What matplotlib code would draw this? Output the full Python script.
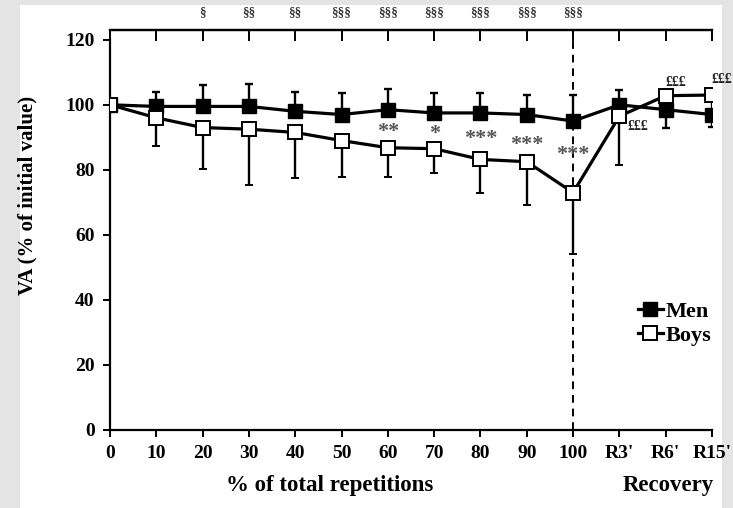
import matplotlib
matplotlib.use("Agg")
import matplotlib.pyplot as plt
from matplotlib.patches import Rectangle
from matplotlib.lines import Line2D

# data
labels = ["0", "10", "20", "30", "40", "50", "60", "70", "80", "90", "100", "R3'", "R6'", "R15'"]
men = [100, 99.5, 99.5, 99.5, 98, 97, 98.5, 97.5, 97.5, 97, 95, 100, 98.5, 97]
men_up = [0, 4.5, 6.5, 7, 6, 6.5, 6.5, 6, 6, 6, 8, 4.6, 0, 0]
men_down = [0, 0, 0, 0, 0, 0, 0, 0, 0, 0, 0, 0, 5.6, 3.7]
boys = [100, 96, 93, 92.5, 91.5, 89, 86.8, 86.5, 83.2, 82.5, 73, 96.5, 102.8, 103]
boys_up = [0] * 14
boys_down = [0, 8.6, 12.8, 17.2, 14.1, 11.3, 8.9, 7.5, 10.4, 13.3, 19, 15, 4, 5]
sect_marks = ["", "", "§", "§§", "§§", "§§§", "§§§", "§§§", "§§§", "§§§", "§§§", "", "", ""]
star_marks = ["", "", "", "", "", "", "**", "*", "***", "***", "***", "", "", ""]
star_y = [0, 0, 0, 0, 0, 0, 91.5, 91, 89.5, 87.5, 84.5, 0, 0, 0]
pound_marks = [(11.39, 93.2), (12.22, 106.8), (13.22, 107.7)]

serif = "Liberation Serif"
plt.rcParams["font.family"] = serif
plt.rcParams["font.weight"] = "bold"

fig = plt.figure(figsize=(7.33, 5.08), dpi=100, facecolor="#e4e4e4")
fig.patches.append(Rectangle((20 / 733, 0), 702 / 733, 503 / 508, transform=fig.transFigure,
                             facecolor="white", edgecolor="none", zorder=-10))

ax = fig.add_axes([110 / 733, 78 / 508, 602 / 733, 400 / 508])
ax.set_facecolor("none")
x = list(range(len(labels)))

ax.axvline(10, color="black", ls=(0, (4, 3)), lw=1.4, zorder=1)

ax.errorbar(x, men, yerr=[men_down, men_up], color="black", lw=2.3, marker="s", ms=10,
            mfc="black", mec="black", elinewidth=1.7, capsize=3, capthick=1.7, zorder=3)
ax.errorbar(x, boys, yerr=[boys_down, boys_up], color="black", lw=2.3, marker="s", ms=10,
            mfc="white", mec="black", mew=1.4, elinewidth=1.7, capsize=3, capthick=1.7,
            zorder=4)

ax.set_xlim(0, 13)
ax.set_ylim(0, 123)
ax.set_xticks(x)
ax.set_xticklabels(labels, fontsize=14, fontweight="bold")
ax.set_yticks(range(0, 121, 20))
ax.set_yticklabels([str(v) for v in range(0, 121, 20)], fontsize=14, fontweight="bold")
ax.tick_params(axis="both", direction="out", length=5, width=1.4, pad=6)
ax.spines["right"].set_visible(False)
ax.spines["left"].set_bounds(0, 120)
for s in ["left", "bottom", "top"]:
    ax.spines[s].set_linewidth(1.6)

top = ax.twiny()
top.set_xlim(0, 13)
top.set_xticks(x)
top.set_xticklabels([])
top.tick_params(axis="x", direction="in", length=8, width=1.4)
for s in ["left", "right", "bottom"]:
    top.spines[s].set_visible(False)
top.spines["top"].set_linewidth(1.6)

for i, t in enumerate(sect_marks):
    if t:
        ax.text(i, 128.6, t, ha="center", va="center", fontsize=9.5, fontweight="bold",
                color="#333333", clip_on=False)
for i, t in enumerate(star_marks):
    if t:
        ax.text(i, star_y[i], t, ha="center", va="center", fontsize=16, fontweight="bold",
                color="#555555")
for px, py in pound_marks:
    ax.text(px, py, "£££", ha="center", va="center", fontsize=10, fontweight="bold",
            color="#222222", clip_on=False)

ax.set_ylabel("VA (% of initial value)", fontsize=15, fontweight="bold")
ax.yaxis.set_label_coords((37 - 110) / 602, (430 - 195) / 400)
fig.text(330 / 733, 1 - 486 / 508, "% of total repetitions", ha="center", va="center",
         fontsize=16.5, fontweight="bold")
fig.text(668 / 733, 1 - 486 / 508, "Recovery", ha="center", va="center",
         fontsize=16.5, fontweight="bold")

handles = [Line2D([], [], color="black", lw=2.3, marker="s", ms=10, mfc="black", mec="black"),
           Line2D([], [], color="black", lw=2.3, marker="s", ms=10, mfc="white", mec="black",
                  mew=1.4)]
ax.legend(handles, ["Men", "Boys"], loc="upper left",
          bbox_to_anchor=((627 - 110) / 602, 1 - (290 - 30) / 400),
          frameon=False, handlelength=1.1, handletextpad=0.15, labelspacing=0.15,
          borderpad=0, prop={"family": serif, "weight": "bold", "size": 16})

fig.savefig("out.png", dpi=100, facecolor=fig.get_facecolor())
